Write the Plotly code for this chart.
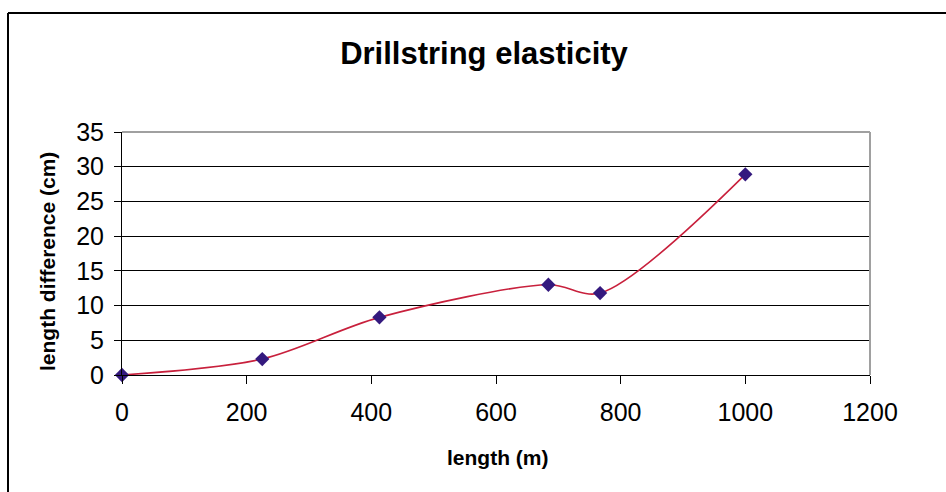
import plotly.graph_objects as go

# Measured drillstring length (m) and resulting length difference (cm)
length_m = [0, 225, 413, 684, 767, 1000]
diff_cm = [0, 2.3, 8.3, 13.0, 11.8, 28.9]

x_ticks = [0, 200, 400, 600, 800, 1000, 1200]
y_ticks = [0, 5, 10, 15, 20, 25, 30, 35]

W, H = 946, 492
ML, MR, MT, MB = 122, 76, 132, 117
PW, PH = W - ML - MR, H - MT - MB


def px_x(p):
    return (p - ML) / PW


def px_y(p):
    return (H - p - MB) / PH


FONT = "Liberation Sans, Arial, sans-serif"

fig = go.Figure()
fig.add_trace(go.Scatter(
    x=length_m, y=diff_cm,
    mode="lines+markers",
    line=dict(color="#c8203c", width=1.6, shape="spline", smoothing=0.9),
    marker=dict(symbol="diamond", size=11, color="#34197e",
                line=dict(width=0)),
    cliponaxis=False,
    showlegend=False,
))

fig.update_layout(
    width=W, height=H,
    margin=dict(l=ML, r=MR, t=MT, b=MB),
    paper_bgcolor="white", plot_bgcolor="white",
    font=dict(family=FONT, color="black"),
    title=dict(text="<b>Drillstring elasticity</b>", x=484 / W, xanchor="center",
               y=1 - 53 / H, yanchor="middle",
               font=dict(size=31, family=FONT, color="black")),
    xaxis=dict(range=[0, 1200], tickvals=x_ticks, ticks="outside", ticklen=8,
               tickcolor="black", showline=True, linecolor="black", linewidth=1,
               showgrid=False, zeroline=False,
               tickfont=dict(size=25, family=FONT), ticklabelstandoff=7),
    yaxis=dict(range=[0, 35], tickvals=y_ticks, ticks="outside", ticklen=7,
               tickcolor="black", showline=True, linecolor="black", linewidth=1,
               showgrid=True, gridcolor="black", gridwidth=1, zeroline=False,
               tickfont=dict(size=25, family=FONT), ticklabelstandoff=5),
    annotations=[
        dict(text="<b>length (m)</b>", xref="paper", yref="paper",
             x=px_x(497), y=px_y(457), xanchor="center", yanchor="middle",
             showarrow=False, font=dict(size=21, family=FONT)),
        dict(text="<b>length difference (cm)</b>", xref="paper", yref="paper",
             x=px_x(47), y=px_y(262), xanchor="center", yanchor="middle",
             textangle=-90, showarrow=False, font=dict(size=21, family=FONT)),
    ],
    shapes=[
        # plot-area border on top and right
        dict(type="line", xref="paper", yref="paper", x0=0, x1=1, y0=1, y1=1,
             line=dict(color="#a0a0a0", width=2), layer="above"),
        dict(type="line", xref="paper", yref="paper", x0=1, x1=1, y0=0, y1=1,
             line=dict(color="#a0a0a0", width=2), layer="above"),
        # chart frame
        dict(type="line", xref="paper", yref="paper",
             x0=px_x(8), x1=px_x(8), y0=px_y(H + 2), y1=px_y(13),
             line=dict(color="black", width=2)),
        dict(type="line", xref="paper", yref="paper",
             x0=px_x(8), x1=px_x(W + 2), y0=px_y(13), y1=px_y(13),
             line=dict(color="black", width=2)),
    ],
)

fig.write_html("out.html")
